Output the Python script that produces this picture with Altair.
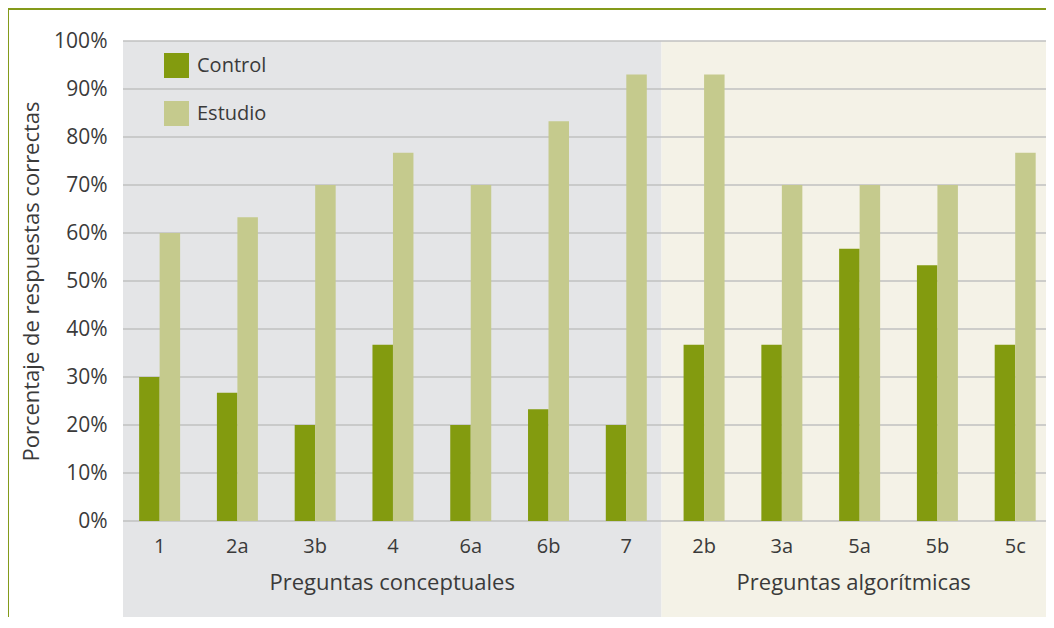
import altair as alt
import pandas as pd

categories = ["1", "2a", "3b", "4", "6a", "6b", "7", "2b", "3a", "5a", "5b", "5c"]
control = [30, 26.7, 20, 36.7, 20, 23.3, 20, 36.7, 36.7, 56.7, 53.3, 36.7]
estudio = [60, 63.3, 70, 76.7, 70, 83.3, 93, 93, 70, 70, 70, 76.7]
series = ["Control", "Estudio"]
series_colors = ["#839b0f", "#c5ca8d"]

group_names = ["Preguntas conceptuales", "Preguntas algorítmicas"]
group_start = [0, 7]
group_end = [7, 12]
group_colors = ["#e4e5e7", "#f4f2e7"]

y_ticks = [0, 10, 20, 30, 40, 50, 60, 70, 80, 90, 100]

FONT = "Open Sans"
TXT = "#3a3a3a"

rows = []
for c, a, b in zip(categories, control, estudio):
    rows.append({"pregunta": c, "grupo": "Control", "valor": a})
    rows.append({"pregunta": c, "grupo": "Estudio", "valor": b})
bars_df = pd.DataFrame(rows)

bg_df = pd.DataFrame({
    "nombre": group_names,
    "ini": group_start,
    "fin": group_end,
    "color": group_colors,
})
bg_df["mid"] = (bg_df["ini"] + bg_df["fin"]) / 2

grid_df = pd.DataFrame({"v": y_ticks})

xq = alt.Scale(domain=[0, 12], nice=False, zero=False)

background = alt.Chart(bg_df).mark_rect().encode(
    x=alt.X("ini:Q", scale=xq, axis=None),
    x2="fin:Q",
    y=alt.datum(-20),
    y2=alt.datum(100),
    color=alt.Color("color:N", scale=None, legend=None),
)

group_text = alt.Chart(bg_df).mark_text(
    font=FONT, fontSize=22, color=TXT, baseline="middle"
).encode(
    x=alt.X("mid:Q", scale=xq, axis=None),
    y=alt.datum(-13),
    text="nombre:N",
)

grid = alt.Chart(grid_df).mark_rule(color="#c0c0c0", strokeWidth=1.6).encode(
    y=alt.Y("v:Q")
)

bars = alt.Chart(bars_df).mark_bar().encode(
    x=alt.X(
        "pregunta:N",
        sort=categories,
        scale=alt.Scale(paddingInner=0.473, paddingOuter=0.17, align=0.61),
        axis=alt.Axis(
            orient="bottom", zindex=2,
            title=None, domain=False, ticks=False, labelAngle=0,
            labelFont=FONT, labelFontSize=20, labelColor=TXT, labelPadding=15,
        ),
    ),
    xOffset=alt.XOffset("grupo:N", sort=series, scale=alt.Scale(paddingInner=0, paddingOuter=0)),
    y=alt.Y(
        "valor:Q",
        scale=alt.Scale(domain=[0, 100], nice=False),
        axis=alt.Axis(
            title="Porcentaje de respuestas correctas",
            values=y_ticks,
            labelExpr="datum.value + '%'",
            grid=False, domain=False, ticks=False,
            labelFont=FONT, labelFontSize=21, labelColor=TXT, labelPadding=16,
            titleFont=FONT, titleFontSize=22, titleColor=TXT, titleFontWeight="normal",
            titlePadding=10,
        ),
    ),
    color=alt.Color(
        "grupo:N",
        sort=series,
        scale=alt.Scale(domain=series, range=series_colors),
        legend=alt.Legend(
            title=None, orient="none", legendX=41, legendY=12,
            symbolType="square", symbolSize=625, symbolStrokeWidth=0,
            symbolOpacity=1,
            labelFont=FONT, labelFontSize=20, labelColor=TXT, labelOffset=8,
            rowPadding=23,
        ),
    ),
)

frame_top = alt.Chart(grid_df).mark_rule(color="#849a1a", strokeWidth=2).encode(
    x=alt.value(-115), x2=alt.value(930), y=alt.value(-32)
)
frame_left = alt.Chart(grid_df).mark_rule(color="#849a1a", strokeWidth=2).encode(
    x=alt.value(-115), y=alt.value(-32), y2=alt.value(600)
)

chart = alt.layer(
    background, group_text, grid, bars, frame_top, frame_left
).resolve_scale(
    x="independent", color="independent"
).properties(
    width=923, height=480,
    autosize=alt.AutoSizeParams(type="none"),
    padding={"left": 115, "top": 33, "right": 0, "bottom": 96},
).configure_view(stroke=None)

chart.save("out.html", embed_options={"renderer": "svg", "actions": False})
